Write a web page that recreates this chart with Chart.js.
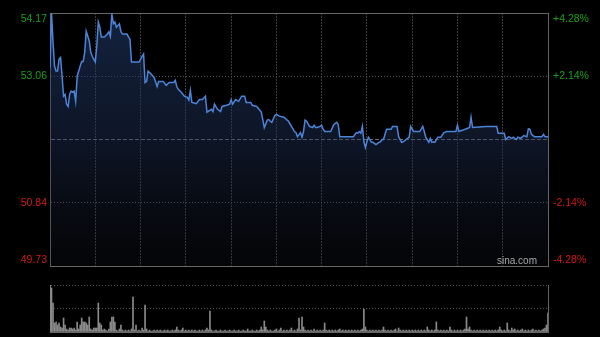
<!DOCTYPE html>
<html>
<head>
<meta charset="utf-8">
<script src="https://cdn.jsdelivr.net/npm/chart.js@4.4.1/dist/chart.umd.min.js"></script>
<style>
  html, body { margin: 0; padding: 0; background: #000; }
  #wrap { position: relative; width: 600px; height: 337px; overflow: hidden; background: #000; }
  #priceChart { position: absolute; left: 0; top: 0; }
  #volChart { position: absolute; left: 0; top: 275px; }
</style>
</head>
<body>
<div id="wrap">
  <canvas id="priceChart" width="600" height="275"></canvas>
  <canvas id="volChart" width="600" height="62"></canvas>
</div>
<script>
// Intraday data (minutes since open, HK session 330 min)
const minutes = [
  0,1,2,3,4,5,6,7,8,9,
  10,11,12,13,14,15,16,17,18,20,
  21,22,23,24,26,27,28,29,30,31,
  32,33,34,36,38,39,40,41,42,43,
  44,46,47,48,51,52,53,54,59,61,
  62,63,64,65,67,69,71,72,75,77,
  79,82,83,84,85,87,89,91,92,93,
  94,97,99,101,103,104,107,108,109,111,
  113,114,117,119,120,121,123,125,127,129,
  130,133,134,137,140,141,142,144,145,146,
  147,149,150,152,155,158,160,162,163,164,
  166,167,168,169,170,172,174,175,176,177,
  179,180,181,182,186,188,190,191,192,193,
  201,203,204,205,206,207,208,209,210,211,
  213,214,216,218,219,220,221,223,226,227,
  230,231,233,234,236,238,239,240,241,245,
  247,248,249,251,252,253,254,255,257,259,
  261,263,269,270,271,276,278,279,280,289,
  296,297,301,302,304,306,307,309,310,312,
  314,316,317,318,319,321,323,326,327,328,
  329,330
];
const prices = [
  53.22,54.17,53.66,53.24,53.15,53.15,53.36,53.39,53.06,52.71,
  52.74,52.57,52.53,52.74,52.80,52.78,52.80,52.62,53.06,53.24,
  53.32,53.32,53.48,53.85,53.68,53.48,53.41,53.36,53.31,53.59,
  54.01,53.92,53.75,53.75,53.80,53.84,53.76,54.15,53.98,54.01,
  53.92,53.98,53.84,53.80,53.80,53.75,53.71,53.31,53.31,53.41,
  53.45,52.95,52.97,53.15,53.10,53.04,52.88,52.97,52.97,52.90,
  52.95,52.95,52.99,52.88,52.83,52.78,52.71,52.69,52.64,52.81,
  52.60,52.58,52.65,52.65,52.71,52.43,52.48,52.44,52.57,52.48,
  52.44,52.53,52.55,52.57,52.65,52.57,52.65,52.62,52.71,52.71,
  52.60,52.60,52.55,52.53,52.43,52.30,52.16,52.29,52.30,52.27,
  52.25,52.37,52.39,52.36,52.34,52.27,52.18,52.09,52.07,52.00,
  52.07,51.99,52.09,52.29,52.27,52.18,52.16,52.20,52.16,52.16,
  52.18,52.20,52.13,52.09,52.09,52.21,52.25,52.21,52.00,52.00,
  52.00,52.07,52.06,52.09,52.06,52.18,51.91,51.81,51.91,51.99,
  51.90,51.90,51.86,51.90,51.91,51.95,51.95,52.13,52.13,52.18,
  52.18,52.00,51.90,51.91,51.95,51.99,52.18,52.13,52.09,52.09,
  52.18,52.09,51.99,51.90,51.97,51.90,51.91,51.90,51.99,51.99,
  52.07,52.09,52.09,52.20,52.09,52.14,52.16,52.34,52.16,52.18,
  52.18,52.06,52.06,51.95,52.00,51.97,51.99,51.95,51.99,51.97,
  52.02,52.00,52.14,52.13,52.04,52.00,52.00,52.00,52.04,52.00,
  52.00,52.00
];
// volume per minute, index = minute
const volumes = [
  470,440,290,90,100,70,90,50,40,140,70,30,20,40,40,30,40,20,100,30,70,140,100,100,90,70,150,30,20,40,
  40,40,290,90,70,20,30,20,10,30,100,150,150,100,20,10,30,70,20,10,20,10,20,10,30,350,20,70,10,20,
  10,40,20,270,30,10,20,10,10,20,10,20,10,20,10,10,20,10,20,10,10,20,10,20,50,20,10,20,40,10,
  20,10,20,10,20,10,20,10,10,20,10,20,10,20,40,20,210,20,10,10,20,10,10,20,10,10,20,10,10,20,
  10,10,20,10,10,20,10,10,20,10,10,30,10,10,20,10,10,20,10,20,50,20,110,50,20,10,20,10,10,20,
  30,10,20,40,10,20,10,20,10,20,40,10,20,10,30,140,20,150,50,20,10,20,10,20,10,30,10,20,10,20,
  10,20,90,20,10,20,10,20,10,20,10,20,30,10,20,10,20,10,20,10,20,10,20,10,20,10,20,30,230,50,
  20,10,20,10,20,10,20,10,20,10,20,50,20,10,20,10,20,10,20,30,10,40,20,10,20,10,20,10,20,10,
  20,10,20,10,20,10,20,10,20,10,50,20,10,20,10,20,100,20,10,20,10,20,10,20,10,50,20,10,20,10,
  20,10,20,10,20,30,150,30,50,20,10,20,10,20,10,20,10,20,10,20,10,20,10,20,10,20,10,20,50,20,
  10,20,10,90,20,10,40,20,30,10,20,10,20,30,10,20,10,20,10,20,30,10,20,10,20,10,20,30,40,70,
  190
];

const prevClose = 51.95;
const priceTicks = [54.17, 53.06, 50.84, 49.73];
const priceLabels = ['54.17', '53.06', '50.84', '49.73'];
const pctLabels = ['+4.28%', '+2.14%', '-2.14%', '-4.28%'];
const priceGrid = [49.73, 50.84, 51.95, 53.06, 54.17];
const timeGrid = [0, 30, 60, 90, 120, 150, 180, 210, 240, 270, 300, 330];

const upColor = '#16a016';
const downColor = '#d01818';
const borderGray = '#666';
const labelFont = '10.5px "Liberation Sans", Arial, sans-serif';

// tick labels + watermark
const sideLabels = {
    id: 'sideLabels',
    afterDraw(chart) {
        const { ctx, chartArea, scales } = chart;
        const y = scales.y;
        ctx.save();
        ctx.font = labelFont;
        ctx.textBaseline = 'middle';
        priceTicks.forEach((v, i) => {
            let py = y.getPixelForValue(v);
            if (i === 0) py += 6;
            if (i === priceTicks.length - 1) py -= 6;
            ctx.fillStyle = v > prevClose ? upColor : downColor;
            ctx.textAlign = 'right';
            ctx.fillText(priceLabels[i], chartArea.left - 3, py);
            ctx.textAlign = 'left';
            ctx.fillText(pctLabels[i], chartArea.right + 5, py);
        });
        ctx.fillStyle = '#a8a8a8';
        ctx.font = '10px "Liberation Sans", Arial, sans-serif';
        ctx.textAlign = 'right';
        ctx.fillText('sina.com', chartArea.right - 11, chartArea.bottom - 5);
        ctx.restore();
    }
};

const priceChart = new Chart(document.getElementById('priceChart'), {
    type: 'line',
    data: {
        datasets: [{
            data: minutes.map((m, i) => ({ x: m, y: prices[i] })),
            borderColor: '#4c84d8',
            borderWidth: 1.5,
            pointRadius: 0,
            tension: 0,
            fill: 'start',
            backgroundColor: (c) => {
                const { ctx, chartArea } = c.chart;
                if (!chartArea) return 'rgba(0,0,0,0)';
                const g = ctx.createLinearGradient(0, chartArea.top, 0, chartArea.bottom);
                g.addColorStop(0, 'rgba(36,62,112,0.55)');
                g.addColorStop(0.5, 'rgba(30,48,86,0.45)');
                g.addColorStop(1, 'rgba(20,24,36,0.2)');
                return g;
            }
        }]
    },
    options: {
        responsive: false,
        animation: false,
        layout: { padding: { top: 13, left: 0, right: 0, bottom: 0 } },
        plugins: { legend: { display: false }, tooltip: { enabled: false } },
        scales: {
            x: {
                type: 'linear',
                min: 0,
                max: 330,
                afterBuildTicks: s => { s.ticks = timeGrid.map(v => ({ value: v })); },
                afterFit: s => { s.height = 9; },
                ticks: { display: false },
                grid: {
                    drawTicks: false,
                    color: c => (c.index === 0 || c.index === timeGrid.length - 1) ? 'rgba(0,0,0,0)' : '#3c3c3c'
                },
                border: { color: borderGray, dash: [2, 1] }
            },
            y: {
                min: 49.73,
                max: 54.17,
                afterBuildTicks: s => { s.ticks = priceGrid.map(v => ({ value: v })); },
                afterFit: s => { s.width = 50; },
                ticks: { display: false },
                grid: {
                    drawTicks: false,
                    color: c => {
                        if (c.index === 0) return 'rgba(0,0,0,0)';
                        if (c.index === priceGrid.length - 1) return borderGray;
                        if (c.index === 2) return '#707070';
                        return '#555';
                    }
                },
                border: {
                    color: borderGray,
                    dash: c => {
                        if (c.index === priceGrid.length - 1) return [];
                        if (c.index === 2) return [4, 2];
                        return [1, 2];
                    }
                }
            },
            y2: {
                position: 'right',
                afterFit: s => { s.width = 52; },
                ticks: { display: false },
                grid: { display: false },
                border: { color: borderGray }
            }
        }
    },
    plugins: [sideLabels]
});

// Volume chart
const volMax = Math.max(...volumes);
const volGrid = [0, volMax / 2, volMax];

const volChart = new Chart(document.getElementById('volChart'), {
    type: 'bar',
    data: {
        datasets: [{
            data: volumes.map((v, i) => ({ x: i, y: v })),
            backgroundColor: '#8a8a8a',
            barThickness: 1
        }]
    },
    options: {
        responsive: false,
        animation: false,
        layout: { padding: { top: 10, left: 0, right: 0, bottom: 0 } },
        plugins: { legend: { display: false }, tooltip: { enabled: false } },
        scales: {
            x: {
                type: 'linear',
                min: 0,
                max: 330,
                offset: false,
                afterFit: s => { s.height = 5; },
                ticks: { display: false },
                grid: { display: false },
                border: { color: borderGray }
            },
            y: {
                min: 0,
                max: volMax,
                afterBuildTicks: s => { s.ticks = volGrid.map(v => ({ value: v })); },
                afterFit: s => { s.width = 50; },
                ticks: { display: false },
                grid: {
                    drawTicks: false,
                    color: c => c.index === 0 ? 'rgba(0,0,0,0)' : '#555'
                },
                border: { color: borderGray, dash: [1, 2] }
            },
            y2: {
                position: 'right',
                afterFit: s => { s.width = 52; },
                ticks: { display: false },
                grid: { display: false },
                border: { color: borderGray }
            }
        }
    }
});
</script>
</body>
</html>
